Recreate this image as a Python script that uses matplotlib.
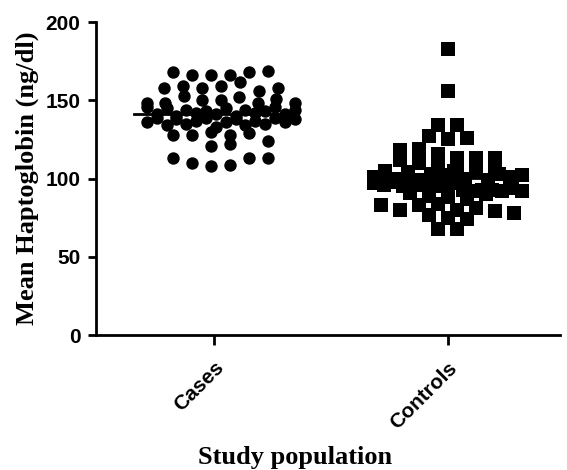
import numpy as np
import matplotlib
matplotlib.use('Agg')
import matplotlib.pyplot as plt

# Haptoglobin values (ng/dl), listed roughly left to right per row
groups = ['Cases', 'Controls']

cases = [168, 166, 166, 166, 168, 169,
         158, 159, 158, 159, 162, 156, 158,
         148, 148, 153, 150, 150, 152, 148, 151, 148,
         146, 141, 145, 140, 144, 142, 143, 141, 145, 140, 144, 142, 143, 146, 141, 144,
         136, 139, 134, 138, 135, 137, 139, 133, 136, 138, 134, 137, 135, 139, 136, 138,
         128, 128, 130, 128, 129,
         121, 122, 124,
         113, 110, 108, 109, 113, 113]

controls = [183, 156, 134, 134, 127, 125, 126, 118, 119, 116,
            112, 113, 110, 111, 113, 113, 109, 107,
            106, 101, 105, 100, 104, 99, 103, 102, 105, 100, 104, 99, 103, 101,
            102, 97, 96, 98, 95, 97, 96, 98, 95, 97,
            93, 92, 91, 93, 93, 92, 94, 92,
            89, 88, 87, 90,
            83, 80, 77, 83, 84, 80, 81, 79, 78,
            75, 74, 68, 68]

# one category step is about 234 px in the plot
px_per_cat = 234.0


def rows_layout(values, step=6.5, spacing=19.0, limit=74.0):
    # group sorted values into rows and spread each row evenly, like Prism
    vals = np.asarray(values, dtype=float)
    order = np.argsort(-vals, kind='stable')
    offsets = np.zeros(len(vals))
    row = [order[0]]
    rows = []
    for i in order[1:]:
        if vals[row[0]] - vals[i] > step:
            rows.append(row)
            row = [i]
        else:
            row.append(i)
    rows.append(row)
    for r in rows:
        n = len(r)
        if n == 1:
            continue
        sp = min(spacing, 2 * limit / (n - 1))
        pos = (np.arange(n) - (n - 1) / 2) * sp
        for k, idx in enumerate(sorted(r)):
            offsets[idx] = pos[k]
    return offsets / px_per_cat


fig = plt.figure(figsize=(5.67, 4.70), dpi=100)
ax = fig.add_axes([0.169, 0.287, 0.819, 0.666])

x_cases = 0.03 + rows_layout(cases)
x_controls = 1 + rows_layout(controls)

ax.scatter(x_cases, cases, s=80, marker='o', color='black', linewidths=0, zorder=3)
ax.scatter(x_controls, controls, s=92, marker='s', color='black', linewidths=0, zorder=3)

for i, vals in enumerate([cases, controls]):
    m = np.mean(vals)
    ax.plot([i - 0.34, i + 0.34], [m, m], color='black', lw=2, zorder=4)

ax.set_xlim(-0.504, 1.48)
ax.set_ylim(0, 200)
ax.set_yticks([0, 50, 100, 150, 200])
ax.set_xticks([0, 1])
ax.set_xticklabels(groups, rotation=45, ha='right', rotation_mode='anchor',
                   fontfamily='Liberation Sans', fontweight='bold', fontsize=15)
for lab in ax.get_yticklabels():
    lab.set_fontfamily('Liberation Sans')
    lab.set_fontweight('bold')
    lab.set_fontsize(15)

for side in ['top', 'right']:
    ax.spines[side].set_visible(False)
for side in ['left', 'bottom']:
    ax.spines[side].set_linewidth(2)
ax.tick_params(axis='y', width=2, length=6, pad=5)
ax.tick_params(axis='x', width=2, length=7.5, pad=9)

ax.set_ylabel('Mean Haptoglobin (ng/dl)', fontfamily='Liberation Serif',
              fontweight='bold', fontsize=19, labelpad=5)
ax.set_xlabel('Study population', fontfamily='Liberation Serif',
              fontweight='bold', fontsize=19, va='top')
ax.xaxis.set_label_coords(0.43, -0.355)

fig.savefig('out.png', dpi=100)
